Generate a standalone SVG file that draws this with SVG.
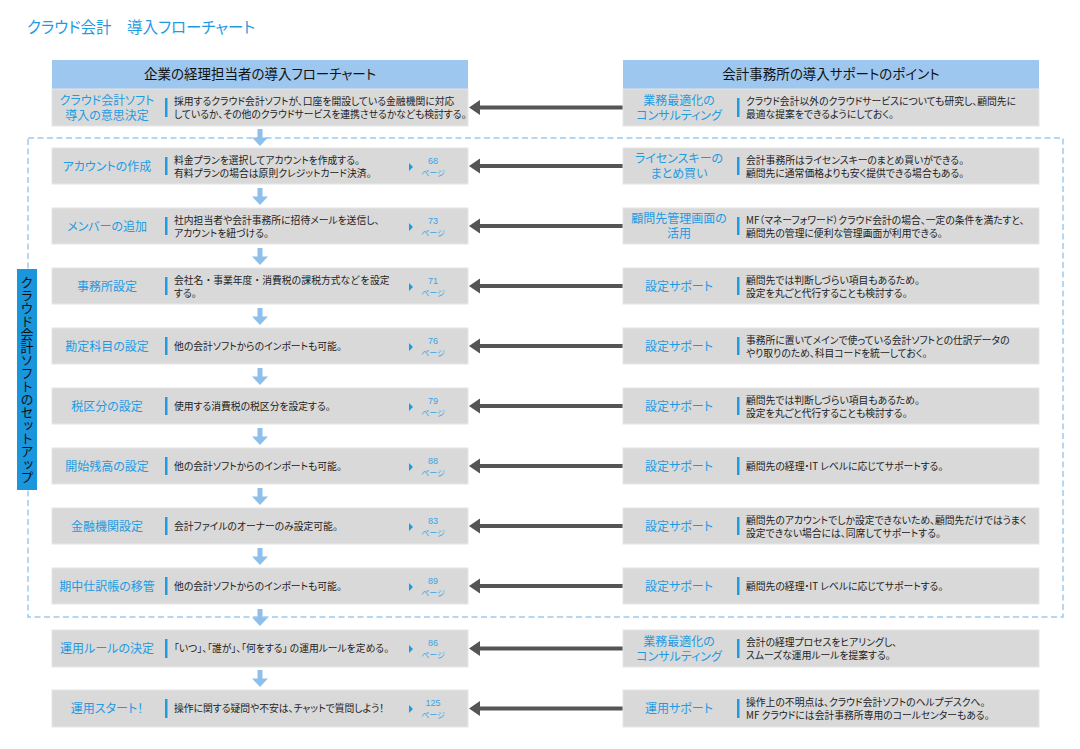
<svg xmlns="http://www.w3.org/2000/svg" xmlns:xlink="http://www.w3.org/1999/xlink" width="1080" height="749" viewBox="0 0 1080 749">
<style>
text{font-family:"Noto Sans CJK JP","Noto Sans",sans-serif;font-feature-settings:"palt";}
.title{font-size:15.5px;fill:#1f9be2;}
.hdr{fill:#9dc7ee;}
.hdrt{font-size:13.5px;fill:#111;text-anchor:middle;}
.box{fill:#d9d9d9;stroke:#e6e6e6;stroke-width:1;}
.lbl{font-size:12px;fill:#1f9be2;text-anchor:middle;}
.bar{fill:#1f9be2;}
.desc{font-size:9.8px;fill:#222;}
.nop{font-feature-settings:normal;}
.pg{font-size:9px;fill:#3ba3e6;text-anchor:middle;font-family:"Liberation Sans","Noto Sans CJK JP",sans-serif;}
.pgj{font-size:8px;fill:#3ba3e6;text-anchor:middle;}
.tri{fill:#1f9be2;}
.conn{stroke:#555;stroke-width:4;fill:none;}
.head{fill:#555;}
.down{fill:#8fc0ec;}
.vlbl{font-size:13px;fill:#111;text-anchor:middle;writing-mode:vertical-rl;}
</style>
<defs>
<path id="dn" class="down" d="M-2.5,0 h5 v8.5 h5.5 l-8,8.5 l-8,-8.5 h5.5 z"/>
<polygon id="tr" class="tri" points="0,-4 4,0 0,4"/>
</defs>
<text class="title" x="27" y="33">クラウド会計　導入フローチャート</text>

<g id="headers">
<rect class="hdr" x="52" y="60" width="416" height="29"/>
<text class="hdrt" x="260" y="79">企業の経理担当者の導入フローチャート</text>
<rect class="hdr" x="623" y="60" width="416" height="29"/>
<text class="hdrt" x="831" y="79">会計事務所の導入サポートのポイント</text>
</g>

<g id="setup-group">
<rect x="28" y="138" width="1035" height="479" fill="none" stroke="#9dcaf0" stroke-width="1.5" stroke-dasharray="6 3.5"/>
<rect x="17" y="269" width="20" height="221" fill="#1a96dc"/>
<text class="vlbl" x="27" y="379.5">クラウド会計ソフトのセットアップ</text>
</g>

<g id="down-arrows">
<use xlink:href="#dn" x="260" y="129"/>
<use xlink:href="#dn" x="260" y="188"/>
<use xlink:href="#dn" x="260" y="248"/>
<use xlink:href="#dn" x="260" y="308"/>
<use xlink:href="#dn" x="260" y="368"/>
<use xlink:href="#dn" x="260" y="428"/>
<use xlink:href="#dn" x="260" y="488"/>
<use xlink:href="#dn" x="260" y="548"/>
<use xlink:href="#dn" x="260" y="609"/>
<use xlink:href="#dn" x="260" y="670"/>
</g>

<g id="connectors">
<line class="conn" x1="623" y1="107.5" x2="478" y2="107.5"/><polygon class="head" points="469,107.5 480,100 480,115"/>
<line class="conn" x1="623" y1="166" x2="478" y2="166"/><polygon class="head" points="469,166 480,158.5 480,173.5"/>
<line class="conn" x1="623" y1="226" x2="478" y2="226"/><polygon class="head" points="469,226 480,218.5 480,233.5"/>
<line class="conn" x1="623" y1="286" x2="478" y2="286"/><polygon class="head" points="469,286 480,278.5 480,293.5"/>
<line class="conn" x1="623" y1="346" x2="478" y2="346"/><polygon class="head" points="469,346 480,338.5 480,353.5"/>
<line class="conn" x1="623" y1="406" x2="478" y2="406"/><polygon class="head" points="469,406 480,398.5 480,413.5"/>
<line class="conn" x1="623" y1="466" x2="478" y2="466"/><polygon class="head" points="469,466 480,458.5 480,473.5"/>
<line class="conn" x1="623" y1="526" x2="478" y2="526"/><polygon class="head" points="469,526 480,518.5 480,533.5"/>
<line class="conn" x1="623" y1="586" x2="478" y2="586"/><polygon class="head" points="469,586 480,578.5 480,593.5"/>
<line class="conn" x1="623" y1="648.5" x2="478" y2="648.5"/><polygon class="head" points="469,648.5 480,641 480,656"/>
<line class="conn" x1="623" y1="708.5" x2="478" y2="708.5"/><polygon class="head" points="469,708.5 480,701 480,716"/>
</g>

<!-- Left column -->
<g id="L0">
<rect class="box" x="52" y="89" width="416" height="37"/>
<text class="lbl" x="107" y="104.5">クラウド会計ソフト</text>
<text class="lbl" x="107" y="119.5">導入の意思決定</text>
<rect class="bar" x="165" y="98" width="2.5" height="19"/>
<text class="desc" x="174" y="105">採用するクラウド会計ソフトが、口座を開設している金融機関に対応</text>
<text class="desc" x="174" y="118">しているか、その他のクラウドサービスを連携させるかなども検討する。</text>
</g>
<g id="L1">
<rect class="box" x="52" y="148" width="416" height="36"/>
<text class="lbl" x="107" y="170.5">アカウントの作成</text>
<rect class="bar" x="165" y="157" width="2.5" height="18"/>
<text class="desc" x="174" y="164">料金プランを選択してアカウントを作成する。</text>
<text class="desc" x="174" y="177">有料プランの場合は原則クレジットカード決済。</text>
<use xlink:href="#tr" x="409" y="167"/>
<text class="pg" x="433" y="164">68</text><text class="pgj" x="433" y="176">ページ</text>
</g>
<g id="L2">
<rect class="box" x="52" y="208" width="416" height="36"/>
<text class="lbl" x="107" y="230.5">メンバーの追加</text>
<rect class="bar" x="165" y="217" width="2.5" height="18"/>
<text class="desc" x="174" y="224">社内担当者や会計事務所に招待メールを送信し、</text>
<text class="desc" x="174" y="237">アカウントを紐づける。</text>
<use xlink:href="#tr" x="409" y="227"/>
<text class="pg" x="433" y="224">73</text><text class="pgj" x="433" y="236">ページ</text>
</g>
<g id="L3">
<rect class="box" x="52" y="268" width="416" height="36"/>
<text class="lbl" x="107" y="290.5">事務所設定</text>
<rect class="bar" x="165" y="277" width="2.5" height="18"/>
<text class="desc nop" x="174" y="284">会社名・事業年度・消費税の課税方式などを設定</text>
<text class="desc" x="174" y="297">する。</text>
<use xlink:href="#tr" x="409" y="287"/>
<text class="pg" x="433" y="284">71</text><text class="pgj" x="433" y="296">ページ</text>
</g>
<g id="L4">
<rect class="box" x="52" y="328" width="416" height="36"/>
<text class="lbl" x="107" y="350.5">勘定科目の設定</text>
<rect class="bar" x="165" y="337" width="2.5" height="18"/>
<text class="desc" x="174" y="349.5">他の会計ソフトからのインポートも可能。</text>
<use xlink:href="#tr" x="409" y="347"/>
<text class="pg" x="433" y="344">76</text><text class="pgj" x="433" y="356">ページ</text>
</g>
<g id="L5">
<rect class="box" x="52" y="388" width="416" height="36"/>
<text class="lbl" x="107" y="410.5">税区分の設定</text>
<rect class="bar" x="165" y="397" width="2.5" height="18"/>
<text class="desc" x="174" y="409.5">使用する消費税の税区分を設定する。</text>
<use xlink:href="#tr" x="409" y="407"/>
<text class="pg" x="433" y="404">79</text><text class="pgj" x="433" y="416">ページ</text>
</g>
<g id="L6">
<rect class="box" x="52" y="448" width="416" height="36"/>
<text class="lbl" x="107" y="470.5">開始残高の設定</text>
<rect class="bar" x="165" y="457" width="2.5" height="18"/>
<text class="desc" x="174" y="469.5">他の会計ソフトからのインポートも可能。</text>
<use xlink:href="#tr" x="409" y="467"/>
<text class="pg" x="433" y="464">88</text><text class="pgj" x="433" y="476">ページ</text>
</g>
<g id="L7">
<rect class="box" x="52" y="508" width="416" height="36"/>
<text class="lbl" x="107" y="530.5">金融機関設定</text>
<rect class="bar" x="165" y="517" width="2.5" height="18"/>
<text class="desc" x="174" y="529.5">会計ファイルのオーナーのみ設定可能。</text>
<use xlink:href="#tr" x="409" y="527"/>
<text class="pg" x="433" y="524">83</text><text class="pgj" x="433" y="536">ページ</text>
</g>
<g id="L8">
<rect class="box" x="52" y="568" width="416" height="36"/>
<text class="lbl" x="107" y="590.5">期中仕訳帳の移管</text>
<rect class="bar" x="165" y="577" width="2.5" height="18"/>
<text class="desc" x="174" y="589.5">他の会計ソフトからのインポートも可能。</text>
<use xlink:href="#tr" x="409" y="587"/>
<text class="pg" x="433" y="584">89</text><text class="pgj" x="433" y="596">ページ</text>
</g>
<g id="L9">
<rect class="box" x="52" y="630" width="416" height="37"/>
<text class="lbl" x="107" y="653">運用ルールの決定</text>
<rect class="bar" x="165" y="639" width="2.5" height="19"/>
<text class="desc" x="174" y="652">「いつ」、「誰が」、「何をする」 の運用ルールを定める。</text>
<use xlink:href="#tr" x="409" y="649"/>
<text class="pg" x="433" y="646">86</text><text class="pgj" x="433" y="658">ページ</text>
</g>
<g id="L10">
<rect class="box" x="52" y="690" width="416" height="37"/>
<text class="lbl" x="107" y="713">運用スタート！</text>
<rect class="bar" x="165" y="699" width="2.5" height="19"/>
<text class="desc" x="174" y="712">操作に関する疑問や不安は、チャットで質問しよう！</text>
<use xlink:href="#tr" x="409" y="709"/>
<text class="pg" x="433" y="706">125</text><text class="pgj" x="433" y="718">ページ</text>
</g>

<!-- Right column -->
<g id="R0">
<rect class="box" x="623" y="89" width="416" height="37"/>
<text class="lbl" x="679" y="104.5">業務最適化の</text>
<text class="lbl" x="679" y="119.5">コンサルティング</text>
<rect class="bar" x="737" y="98" width="2.5" height="19"/>
<text class="desc" x="746" y="105">クラウド会計以外のクラウドサービスについても研究し、顧問先に</text>
<text class="desc" x="746" y="118">最適な提案をできるようにしておく。</text>
</g>
<g id="R1">
<rect class="box" x="623" y="148" width="416" height="36"/>
<text class="lbl" x="679" y="163">ライセンスキーの</text>
<text class="lbl" x="679" y="178">まとめ買い</text>
<rect class="bar" x="737" y="157" width="2.5" height="18"/>
<text class="desc" x="746" y="164">会計事務所はライセンスキーのまとめ買いができる。</text>
<text class="desc" x="746" y="177">顧問先に通常価格よりも安く提供できる場合もある。</text>
</g>
<g id="R2">
<rect class="box" x="623" y="208" width="416" height="36"/>
<text class="lbl" x="679" y="223">顧問先管理画面の</text>
<text class="lbl" x="679" y="238">活用</text>
<rect class="bar" x="737" y="217" width="2.5" height="18"/>
<text class="desc" x="746" y="224">MF（マネーフォワード）クラウド会計の場合、一定の条件を満たすと、</text>
<text class="desc" x="746" y="237">顧問先の管理に便利な管理画面が利用できる。</text>
</g>
<g id="R3">
<rect class="box" x="623" y="268" width="416" height="36"/>
<text class="lbl" x="679" y="290.5">設定サポート</text>
<rect class="bar" x="737" y="277" width="2.5" height="18"/>
<text class="desc" x="746" y="284">顧問先では判断しづらい項目もあるため。</text>
<text class="desc" x="746" y="297">設定を丸ごと代行することも検討する。</text>
</g>
<g id="R4">
<rect class="box" x="623" y="328" width="416" height="36"/>
<text class="lbl" x="679" y="350.5">設定サポート</text>
<rect class="bar" x="737" y="337" width="2.5" height="18"/>
<text class="desc" x="746" y="344">事務所に置いてメインで使っている会計ソフトとの仕訳データの</text>
<text class="desc" x="746" y="357">やり取りのため、科目コードを統一しておく。</text>
</g>
<g id="R5">
<rect class="box" x="623" y="388" width="416" height="36"/>
<text class="lbl" x="679" y="410.5">設定サポート</text>
<rect class="bar" x="737" y="397" width="2.5" height="18"/>
<text class="desc" x="746" y="404">顧問先では判断しづらい項目もあるため。</text>
<text class="desc" x="746" y="417">設定を丸ごと代行することも検討する。</text>
</g>
<g id="R6">
<rect class="box" x="623" y="448" width="416" height="36"/>
<text class="lbl" x="679" y="470.5">設定サポート</text>
<rect class="bar" x="737" y="457" width="2.5" height="18"/>
<text class="desc" x="746" y="469.5">顧問先の経理・IT レベルに応じてサポートする。</text>
</g>
<g id="R7">
<rect class="box" x="623" y="508" width="416" height="36"/>
<text class="lbl" x="679" y="530.5">設定サポート</text>
<rect class="bar" x="737" y="517" width="2.5" height="18"/>
<text class="desc" x="746" y="524">顧問先のアカウントでしか設定できないため、顧問先だけではうまく</text>
<text class="desc" x="746" y="537">設定できない場合には、同席してサポートする。</text>
</g>
<g id="R8">
<rect class="box" x="623" y="568" width="416" height="36"/>
<text class="lbl" x="679" y="590.5">設定サポート</text>
<rect class="bar" x="737" y="577" width="2.5" height="18"/>
<text class="desc" x="746" y="589.5">顧問先の経理・IT レベルに応じてサポートする。</text>
</g>
<g id="R9">
<rect class="box" x="623" y="630" width="416" height="37"/>
<text class="lbl" x="679" y="645.5">業務最適化の</text>
<text class="lbl" x="679" y="660.5">コンサルティング</text>
<rect class="bar" x="737" y="639" width="2.5" height="19"/>
<text class="desc" x="746" y="646">会計の経理プロセスをヒアリングし、</text>
<text class="desc" x="746" y="659">スムーズな運用ルールを提案する。</text>
</g>
<g id="R10">
<rect class="box" x="623" y="690" width="416" height="37"/>
<text class="lbl" x="679" y="713">運用サポート</text>
<rect class="bar" x="737" y="699" width="2.5" height="19"/>
<text class="desc" x="746" y="706">操作上の不明点は、クラウド会計ソフトのヘルプデスクへ。</text>
<text class="desc" x="746" y="719">MF クラウドには会計事務所専用のコールセンターもある。</text>
</g>
</svg>
